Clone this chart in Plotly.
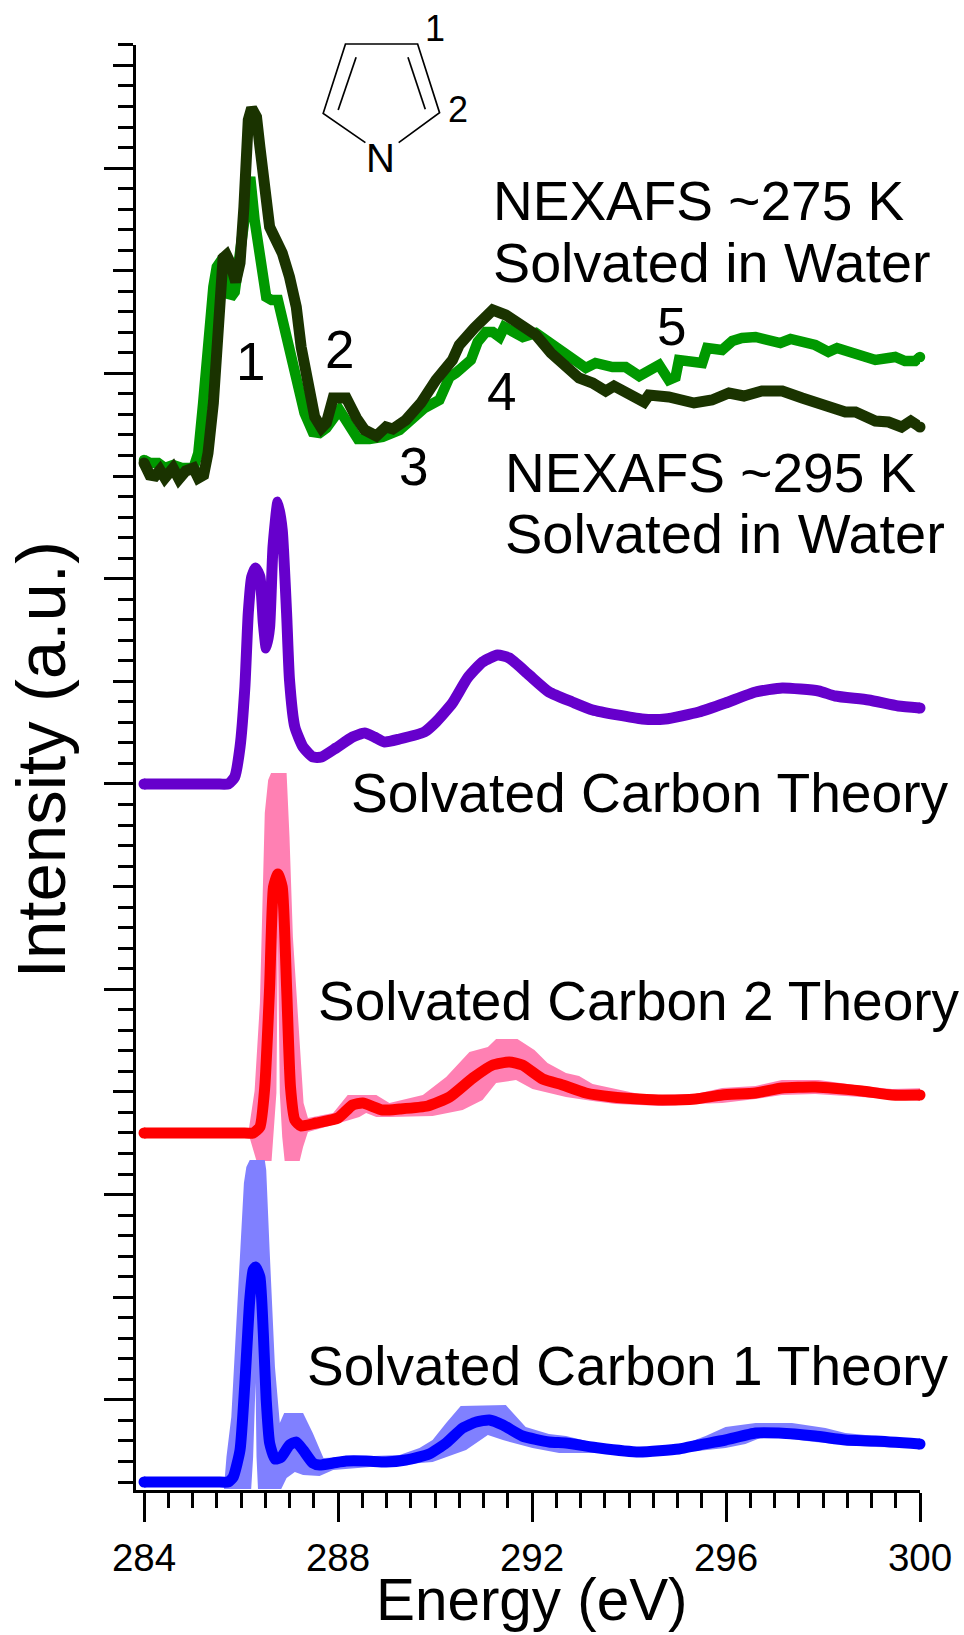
import plotly.graph_objects as go

# Energy in eV, intensity in arbitrary units (offset spectra on a shared a.u. axis)
green_x = [284.0,284.12,284.29,284.43,284.60,284.78,285.02,285.12,285.22,285.32,285.43,285.50,285.60,285.70,285.78,285.87,285.98,286.08,286.19,286.28,286.39,286.52,286.63,286.76,286.94,287.14,287.31,287.48,287.62,287.76,288.03,288.20,288.41,288.65,288.92,289.27,289.54,289.78,290.09,290.30,290.43,290.74,290.88,291.05,291.19,291.33,291.43,291.81,292.08,292.42,292.73,293.11,293.31,293.66,293.93,294.21,294.62,294.82,294.96,295.03,295.51,295.61,295.92,296.13,296.33,296.61,297.12,297.33,297.84,298.11,298.29,298.60,299.08,299.49,299.69,299.90,300.0]
green_y = [1031,1028,1028,1023,1026,1023,1023,1038,1088,1154,1204,1224,1231,1228,1193,1199,1238,1284,1314,1271,1231,1194,1191,1191,1154,1111,1078,1059,1058,1063,1081,1068,1052,1052,1054,1061,1071,1083,1091,1114,1118,1131,1149,1159,1159,1154,1164,1154,1158,1146,1138,1123,1128,1124,1124,1115,1126,1111,1114,1131,1128,1143,1141,1150,1153,1154,1148,1152,1146,1139,1143,1138,1131,1134,1130,1130,1134]

dark_x = [284.0,284.12,284.23,284.33,284.43,284.60,284.72,284.86,285.02,285.12,285.23,285.32,285.43,285.50,285.55,285.63,285.70,285.78,285.89,285.98,286.06,286.15,286.22,286.32,286.39,286.49,286.59,286.70,286.85,287.00,287.14,287.24,287.38,287.52,287.66,287.76,287.90,288.00,288.17,288.38,288.55,288.79,288.99,289.13,289.40,289.71,290.02,290.36,290.50,290.81,291.19,291.46,291.91,292.08,292.39,292.66,292.97,293.25,293.52,293.69,294.00,294.31,294.41,294.82,295.34,295.71,296.06,296.37,296.74,297.16,297.57,297.84,298.18,298.46,298.67,299.08,299.35,299.62,299.81,299.93,300.0]
dark_y = [1028,1016,1015,1021,1013,1023,1012,1020,1023,1013,1016,1038,1088,1154,1204,1233,1236,1228,1209,1228,1284,1371,1383,1374,1344,1298,1264,1253,1238,1214,1184,1144,1101,1074,1063,1068,1093,1094,1093,1073,1061,1055,1064,1062,1071,1088,1111,1131,1146,1163,1181,1176,1159,1156,1138,1126,1113,1108,1100,1105,1096,1089,1096,1094,1088,1091,1098,1095,1100,1100,1093,1088,1084,1079,1079,1070,1069,1064,1070,1064,1064]

purple_x = [284.0,285.0,285.5,285.74,285.87,285.98,286.08,286.15,286.22,286.30,286.39,286.46,286.52,286.59,286.66,286.76,286.85,286.94,287.00,287.11,287.28,287.48,287.66,287.96,288.30,288.55,288.75,288.96,289.27,289.78,290.02,290.36,290.67,290.98,291.29,291.53,291.94,292.35,292.83,293.25,294.27,294.75,295.44,295.99,296.61,297.16,297.91,298.25,298.94,299.55,300.0]
purple_y = [707,707,707,707,714,744,804,878,914,923,914,868,843,864,944,989,961,878,811,764,744,734,734,743,754,758,754,749,752,759,769,788,813,829,836,833,816,799,789,781,772,772,779,788,799,803,800,795,791,785,783]

red_x = [284.0,285.0,286.0,286.25,286.39,286.49,286.59,286.67,286.76,286.85,286.94,287.02,287.11,287.24,287.55,288.00,288.30,288.51,288.92,289.27,289.85,290.30,290.78,291.19,291.53,291.80,292.22,292.63,293.11,293.66,294.21,294.69,295.37,295.92,296.61,297.15,297.84,298.80,299.42,300.0]
red_y = [358,358,358,358,364,404,504,604,617,604,504,404,371,365,368,373,386,388,381,382,385,394,413,426,429,426,412,406,398,394,392,391,392,396,398,403,404,400,396,396]
red_up_x = [286.15,286.28,286.39,286.46,286.49,286.56,286.62,286.94,287.00,287.07,287.21,287.29,287.38,287.90,288.20,288.79,289.06,289.75,290.23,290.71,291.09,291.26,291.70,292.05,292.32,292.70,292.97,293.25,293.73,294.21,294.69,295.37,295.92,296.61,297.15,297.91,298.80,299.42,300.15]
red_up_y = [358,400,488,611,678,711,718,718,654,554,444,388,373,378,396,396,388,396,414,439,444,452,452,441,428,418,415,407,402,397,396,397,403,405,411,411,405,402,403]
red_lo_x = [286.15,286.32,286.63,286.67,286.73,286.76,286.80,286.85,286.90,287.21,287.28,287.38,288.03,288.44,288.58,288.79,289.06,289.95,290.57,290.98,291.26,291.67,292.01,292.70,293.25,293.73,294.69,295.37,295.92,296.61,297.15,297.84,298.80,299.42,300.15]
red_lo_y = [358,330,330,354,398,554,398,354,330,330,344,359,368,374,378,374,374,375,381,391,408,411,402,394,390,387,385,387,388,392,396,397,394,392,390]

blue_x = [284.0,285.0,285.5,285.74,285.84,285.98,286.08,286.18,286.25,286.30,286.39,286.46,286.52,286.59,286.70,286.83,287.00,287.14,287.28,287.48,287.62,287.90,288.17,288.58,288.99,289.40,289.88,290.23,290.57,290.85,291.12,291.40,291.80,292.35,292.70,293.38,294.21,295.03,295.44,295.99,296.61,297.09,297.84,298.46,299.08,300.0]
blue_y = [9,9,9,9,14,41,108,191,221,224,214,158,91,48,32,34,46,49,41,28,26,28,30,30,29,31,37,48,63,69,71,66,55,49,48,43,39,42,46,51,58,58,55,51,50,47]
blue_up_x = [285.65,285.70,285.80,285.91,286.01,286.06,286.11,286.18,286.49,286.52,286.59,286.70,286.80,286.89,287.28,287.48,287.70,289.27,289.68,289.95,290.23,290.53,291.46,291.87,292.35,292.70,293.38,294.21,295.03,295.58,295.99,296.61,297.36,298.05,298.46,299.08,300.15]
blue_up_y = [4,34,74,174,274,308,324,331,331,321,241,124,68,78,78,58,33,36,43,51,68,85,86,64,57,55,47,42,45,55,64,68,68,63,58,55,51]
blue_lo_x = [285.65,286.21,286.25,286.30,286.32,286.35,286.83,286.94,287.11,287.28,287.62,287.90,289.95,290.64,291.09,291.40,292.01,292.56,293.38,294.21,295.03,295.99,296.40,296.81,297.84,298.46,299.08,300.15]
blue_lo_y = [2,2,34,108,34,2,2,13,19,16,15,21,29,41,56,51,43,38,38,35,38,43,47,55,49,46,44,43]

x_major = [284, 288, 292, 296, 300]
x_labels = ["284", "288", "292", "296", "300"]
y_step = 20.53
y_first = 9
y_count = 71
y_all = [y_first + i * y_step for i in range(y_count)]
y_major = [y_all[i] for i in range(4, y_count, 10)]
y_medium = [y_all[i] for i in range(9, y_count, 10)]
y_minor = [v for v in y_all if v not in y_major and v not in y_medium]

PX_L, PX_R, PX_T, PX_B = 136, 922, 45, 1490
FONT = "Liberation Sans"
def px(x): return (x - PX_L) / (PX_R - PX_L)
def py(y): return (PX_B - y) / (PX_B - PX_T)

fig = go.Figure()

def band(xu, yu, xl, yl, color):
    fig.add_trace(go.Scatter(x=xu + xl[::-1], y=yu + yl[::-1], mode="lines", fill="toself",
                             fillcolor=color, line=dict(width=0, color=color),
                             hoverinfo="skip", showlegend=False, cliponaxis=False))

def curve(x, y, color, width=11, smooth=False):
    line = dict(color=color, width=width)
    if smooth:
        line.update(shape="spline", smoothing=0.5)
    fig.add_trace(go.Scatter(x=x, y=y, mode="lines", line=line,
                             hoverinfo="skip", showlegend=False, cliponaxis=False))
    fig.add_trace(go.Scatter(x=[x[0], x[-1]], y=[y[0], y[-1]], mode="markers",
                             marker=dict(color=color, size=width, line=dict(width=0)),
                             hoverinfo="skip", showlegend=False, cliponaxis=False))

band(red_up_x, red_up_y, red_lo_x, red_lo_y, "#ff80b3")
band(blue_up_x, blue_up_y, blue_lo_x, blue_lo_y, "#8080ff")
curve(green_x, green_y, "#009900", 10.5)
curve(dark_x, dark_y, "#1a3300", 11)
curve(purple_x, purple_y, "#6600cc", 11, True)
curve(red_x, red_y, "#ff0000", 11, True)
curve(blue_x, blue_y, "#0000ff", 11, True)

# carries the medium-length y ticks on the overlaying axis
fig.add_trace(go.Scatter(x=[None], y=[None], yaxis="y2", showlegend=False, hoverinfo="skip"))

def label(text, left=None, center=None, base=0, size=54):
    xa = "left" if left is not None else "center"
    xp = left if left is not None else center
    fig.add_annotation(text=text, xref="paper", yref="paper", x=px(xp), y=py(base - 0.346 * size),
                       xanchor=xa, yanchor="middle", showarrow=False,
                       font=dict(family=FONT, size=size, color="black"), borderpad=0, borderwidth=0)

label("NEXAFS ~275 K", left=494, base=220, size=55)
label("Solvated in Water", left=494, base=282, size=55.7)
label("NEXAFS ~295 K", left=506, base=492, size=55)
label("Solvated in Water", left=506, base=553, size=56)
label("Solvated Carbon Theory", left=352, base=812, size=55.2)
label("Solvated Carbon 2 Theory", left=318, base=1020, size=55)
label("Solvated Carbon 1 Theory", left=307, base=1385, size=55)
label("1", center=251, base=380, size=53)
label("2", center=340, base=368, size=53)
label("3", center=414, base=485, size=53)
label("4", center=502, base=410, size=53)
label("5", center=673, base=345, size=53)
label("N", center=381, base=172, size=40)
label("2", center=459, base=122, size=36)
label("1", center=436, base=41, size=36)
label("Energy (eV)", center=533.5, base=1620, size=58.4)

fig.add_annotation(text="Intensity (a.u.)", xref="paper", yref="paper", x=px(41), y=py(760),
                   xanchor="center", yanchor="middle", textangle=-90, showarrow=False,
                   font=dict(family=FONT, size=69, color="black"))

def zp(x, y):
    return px(101 + x / 3), py(20 + y / 3)

mol = [[(795, 368), (668, 280), (735, 72), (952, 72), (1018, 278), (895, 368)],
       [(713, 270), (767, 112)], [(975, 268), (923, 112)]]
for seg in mol:
    pts = [zp(*p) for p in seg]
    path = "M " + " L ".join(f"{a:.5f},{b:.5f}" for a, b in pts)
    fig.add_shape(type="path", path=path, xref="paper", yref="paper",
                  line=dict(color="black", width=1.7), layer="above")

fig.update_layout(
    width=964, height=1635, margin=dict(l=PX_L, r=964 - PX_R, t=PX_T, b=1635 - PX_B),
    paper_bgcolor="white", plot_bgcolor="white", showlegend=False,
    font=dict(family=FONT, color="black"),
    xaxis=dict(range=[283.835, 300], tickmode="array", tickvals=x_major, ticktext=x_labels,
               ticks="outside", ticklen=29, tickwidth=3, tickcolor="black",
               showline=True, linewidth=3, linecolor="black", showgrid=False, zeroline=False,
               tickfont=dict(family=FONT, size=38.5, color="black"), ticklabelstandoff=3,
               minor=dict(tick0=284, dtick=0.5, ticks="outside", ticklen=15, tickwidth=3,
                          tickcolor="black", showgrid=False)),
    yaxis=dict(range=[1, 1446], tickmode="array", tickvals=y_major, ticktext=[""] * len(y_major),
               ticks="outside", ticklen=29, tickwidth=3, tickcolor="black",
               showline=True, linewidth=3, linecolor="black", showgrid=False, zeroline=False,
               minor=dict(tickmode="array", tickvals=y_minor, ticks="outside", ticklen=15, tickwidth=3,
                          tickcolor="black", showgrid=False)),
    yaxis2=dict(range=[1, 1446], overlaying="y", side="left", anchor="x", tickmode="array",
                tickvals=y_medium, ticktext=[""] * len(y_medium), ticks="outside", ticklen=22,
                tickwidth=3, tickcolor="black", showline=False, showgrid=False, zeroline=False),
)

fig.write_html("out.html", config=dict(displayModeBar=False),
               post_script="document.body.style.margin='0';")
